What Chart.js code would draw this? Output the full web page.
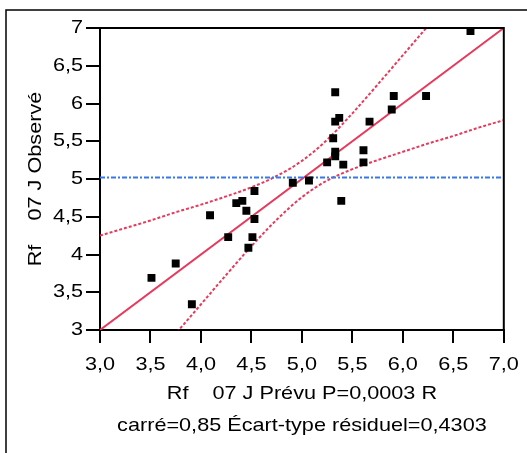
<!DOCTYPE html>
<html>
<head>
<meta charset="utf-8">
<script src="https://cdn.jsdelivr.net/npm/chart.js@4/dist/chart.umd.min.js"></script>
<style>
    body { margin: 0; background: #fff; }
    #wrap { width: 527px; height: 453px; }
</style>
</head>
<body>
<div id="wrap"><canvas id="fitChart" width="527" height="453"></canvas></div>
<script>
const obsX = [6.67, 5.33, 5.91, 6.23, 5.89, 5.37, 5.33, 5.67, 5.31, 5.61, 5.33, 5.33, 5.25, 5.41, 5.61,
              4.91, 5.07, 5.39, 4.53, 4.35, 4.41, 4.45, 4.09, 4.53, 4.27, 4.51, 4.47, 3.75, 3.51, 3.91];
const obsY = [6.96, 6.15, 6.10, 6.10, 5.92, 5.81, 5.76, 5.76, 5.54, 5.38, 5.36, 5.30, 5.22, 5.19, 5.22,
              4.95, 4.98, 4.71, 4.84, 4.68, 4.71, 4.58, 4.52, 4.47, 4.23, 4.23, 4.09, 3.88, 3.69, 3.34];

// Fit line and mean line
const fitX = [3.0, 7.0];
const fitY = [3.0, 7.0];
const meanX = [3.0, 7.0];
const meanY = [5.02, 5.02];

// Confidence curves
const bandX = [3.0, 3.25, 3.5, 3.75, 4.0, 4.25, 4.5, 4.75, 5.0, 5.25, 5.5, 5.75, 6.0, 6.25, 6.5, 6.75, 7.0];
const upperY = [4.25, 4.35, 4.45, 4.56, 4.66, 4.77, 4.89, 5.04, 5.24, 5.52, 5.87, 6.25, 6.64, 7.03, 7.43, 7.83, 8.22];
const lowerY = [1.75, 2.15, 2.55, 2.95, 3.34, 3.73, 4.11, 4.46, 4.76, 4.98, 5.13, 5.25, 5.36, 5.47, 5.57, 5.68, 5.78];

const xTickLabels = ['3,0', '3,5', '4,0', '4,5', '5,0', '5,5', '6,0', '6,5', '7,0'];
const yTickLabels = ['3', '3,5', '4', '4,5', '5', '5,5', '6', '6,5', '7'];

const xTitle = ['Rf    07 J Prévu P=0,0003 R', 'carré=0,85 Écart-type résiduel=0,4303'];
const yTitle = 'Rf    07 J Observé';

const RED = '#e8395c';
const BLUE = '#3a78e8';
const FONT = 'Liberation Sans, Arial, sans-serif';
const TEXT_STRETCH = 1.14; // the original text is drawn a bit wider than Arial

function toPoints(xs, ys) {
    return xs.map((x, i) => ({ x: x, y: ys[i] }));
}

// frame around the picture, box around the plot, wider text
const framePlugin = {
    id: 'frame',
    beforeInit(chart) {
        const c = chart.ctx;
        const fill = c.fillText;
        c.fillText = function (text, x, y, maxWidth) {
            this.save();
            this.translate(x, y);
            this.scale(TEXT_STRETCH, 1);
            if (maxWidth === undefined) {
                fill.call(this, text, 0, 0);
            } else {
                fill.call(this, text, 0, 0, maxWidth / TEXT_STRETCH);
            }
            this.restore();
        };
    },
    beforeDraw(chart) {
        const ctx = chart.ctx;
        ctx.save();
        ctx.fillStyle = '#fff';
        ctx.fillRect(0, 0, chart.width, chart.height);
        ctx.strokeStyle = '#000';
        ctx.lineWidth = 1.5;
        ctx.beginPath();
        ctx.moveTo(6, chart.height);
        ctx.lineTo(6, 10);
        ctx.lineTo(chart.width, 10);
        ctx.stroke();
        ctx.restore();
    },
    afterDraw(chart) {
        const a = chart.chartArea;
        const ctx = chart.ctx;
        ctx.save();
        ctx.strokeStyle = '#000';
        ctx.lineWidth = 2;
        ctx.beginPath();
        ctx.moveTo(a.left, a.top);
        ctx.lineTo(a.right, a.top);
        ctx.lineTo(a.right, a.bottom);
        ctx.stroke();
        ctx.restore();
    }
};

const ctx = document.getElementById('fitChart').getContext('2d');
new Chart(ctx, {
    type: 'scatter',
    data: {
        datasets: [
            {
                label: 'Observé',
                data: toPoints(obsX, obsY),
                pointStyle: 'rect',
                pointRadius: 5.6,
                backgroundColor: '#000',
                borderColor: '#000',
                borderWidth: 0,
                order: 0
            },
            {
                label: 'Moyenne',
                data: toPoints(meanX, meanY),
                showLine: true,
                borderColor: BLUE,
                borderWidth: 2,
                borderDash: [5, 2, 2, 2],
                pointRadius: 0,
                order: 1
            },
            {
                label: 'Ajustement',
                data: toPoints(fitX, fitY),
                showLine: true,
                borderColor: RED,
                borderWidth: 2,
                pointRadius: 0,
                order: 2
            },
            {
                label: 'Sup',
                data: toPoints(bandX, upperY),
                showLine: true,
                borderColor: RED,
                borderWidth: 2,
                borderDash: [3, 2],
                cubicInterpolationMode: 'monotone',
                pointRadius: 0,
                order: 3
            },
            {
                label: 'Inf',
                data: toPoints(bandX, lowerY),
                showLine: true,
                borderColor: RED,
                borderWidth: 2,
                borderDash: [3, 2],
                cubicInterpolationMode: 'monotone',
                pointRadius: 0,
                order: 3
            }
        ]
    },
    options: {
        responsive: false,
        animation: false,
        layout: { padding: { top: 28, right: 23, left: 0, bottom: 0 } },
        plugins: {
            legend: { display: false },
            tooltip: { enabled: false }
        },
        scales: {
            x: {
                type: 'linear',
                min: 3,
                max: 7,
                afterFit: (scale) => { scale.height = 123; },
                border: { color: '#000', width: 2 },
                grid: { drawOnChartArea: false, drawTicks: true, tickLength: 13, color: '#000', lineWidth: 2 },
                ticks: {
                    stepSize: 0.5,
                    padding: 10,
                    color: '#000',
                    font: { family: FONT, size: 19 },
                    maxRotation: 0,
                    callback: (value, index) => xTickLabels[index]
                },
                title: {
                    display: true,
                    text: xTitle,
                    color: '#000',
                    font: { family: FONT, size: 19, lineHeight: '32px' },
                    padding: { top: 0, bottom: 11 }
                }
            },
            y: {
                type: 'linear',
                min: 3,
                max: 7,
                afterFit: (scale) => { scale.width = 100; },
                border: { color: '#000', width: 2 },
                grid: { drawOnChartArea: false, drawTicks: true, tickLength: 14, color: '#000', lineWidth: 2 },
                ticks: {
                    stepSize: 0.5,
                    padding: 3,
                    color: '#000',
                    font: { family: FONT, size: 19 },
                    callback: (value, index) => yTickLabels[index]
                },
                title: {
                    display: true,
                    text: yTitle,
                    color: '#000',
                    font: { family: FONT, size: 19 },
                    padding: { top: 24, bottom: 0 }
                }
            }
        }
    },
    plugins: [framePlugin]
});
</script>
</body>
</html>
